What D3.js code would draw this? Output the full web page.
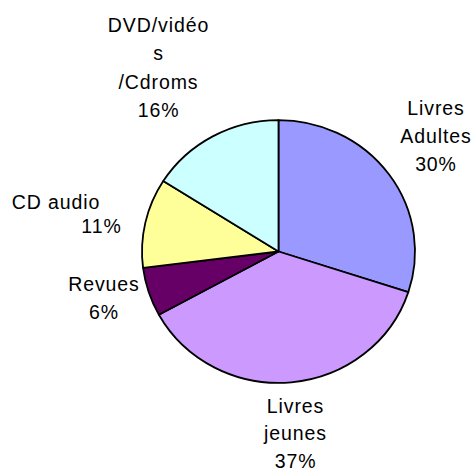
<!DOCTYPE html>
<html><head><meta charset="utf-8">
<script src="https://cdn.jsdelivr.net/npm/d3@7"></script>
<style>body{margin:0;background:#fff}svg{display:block}</style>
</head><body>
<svg id="c" width="475" height="471"></svg>
<script>
const categories = ["Livres Adultes", "Livres jeunes", "Revues", "CD audio", "DVD/vidéos/Cdroms"];
const values = [30, 37, 6, 11, 16];
const labelLines = [["Livres", "Adultes", "30%"], ["Livres", "jeunes", "37%"], ["Revues", "6%"], ["CD audio", "11%"], ["DVD/vidéo", "s", "/Cdroms", "16%"]];
const colors = ["#9999FF", "#CC99FF", "#660066", "#FFFF99", "#CCFFFF"];

// layout
const cx = 278.5, cy = 251.5, rx = 136.5, ry = 131.4;
const labelPos = [
  {dx: 157.5, dy: -115, lh: 28, lineDx: [0, 0, 0]},
  {dx: 17, dy: 182, lh: 27.5, lineDx: [0, 0, 0]},
  {dx: -174.5, dy: 46.5, lh: 28, lineDx: [0, 0]},
  {dx: -200, dy: -37.5, lh: 24, lineDx: [-22.5, 23]},
  {dx: -120, dy: -183.5, lh: 28.5, lineDx: [0, 0, 0, 0]}
];

const svg = d3.select("#c");
const data = categories.map((c, i) => ({cat: c, value: values[i], i}));
const pie = d3.pie().value(d => d.value).sort(null);
const arc = d3.arc().innerRadius(0).outerRadius(rx);

const g = svg.append("g").attr("transform", `translate(${cx},${cy}) scale(1,${ry / rx})`);
g.selectAll("path").data(pie(data)).join("path")
  .attr("d", arc)
  .attr("fill", d => colors[d.data.i])
  .attr("stroke", "#000")
  .attr("stroke-width", 1.8)
  .attr("vector-effect", "non-scaling-stroke")
  .attr("stroke-linejoin", "round");

const lg = svg.append("g").attr("transform", `translate(${cx},${cy})`);
data.forEach((d, i) => {
  const p = labelPos[i];
  const lines = labelLines[i];
  const n = lines.length;
  const t = lg.append("text")
    .attr("text-anchor", "middle")
    .attr("font-family", "Liberation Sans, Arial, sans-serif")
    .attr("font-size", 19.5)
    .attr("letter-spacing", 0.9)
    .attr("fill", "#000");
  lines.forEach((ln, k) => {
    t.append("tspan")
      .attr("x", p.dx + p.lineDx[k])
      .attr("y", p.dy + (k - (n - 1) / 2) * p.lh + 6.5)
      .text(ln);
  });
});
</script>
</body></html>
